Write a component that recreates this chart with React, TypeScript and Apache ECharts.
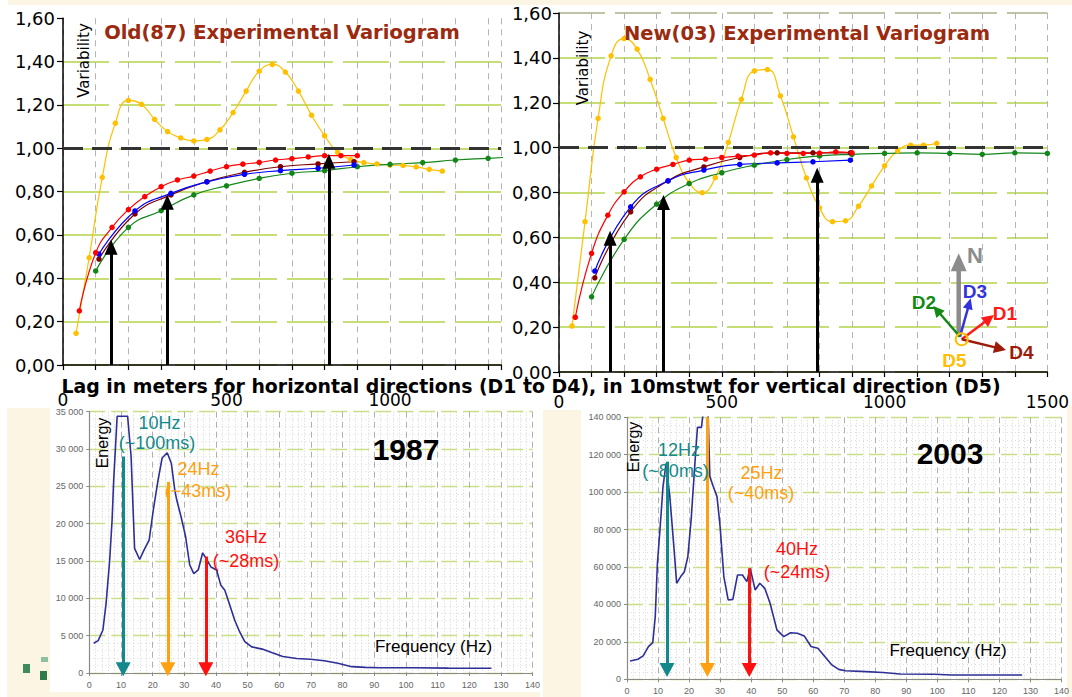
import React, { useEffect, useRef } from "react";
import * as echarts from "echarts";

// ---------- Variogram data (lag, variability) ----------
const lagD5 = [40, 80, 120, 160, 200, 240, 280, 320, 360, 400, 440, 480, 520, 560, 600, 640, 680, 720, 760, 800, 840, 880, 920, 960, 1000, 1040, 1080, 1120, 1160];
const lagD1 = [50, 100, 150, 200, 250, 300, 350, 400, 450, 500, 550, 600, 650, 700, 750, 800, 850, 900];
const lagD2 = [100, 200, 300, 400, 500, 600, 700, 800, 900, 1000, 1100, 1200, 1300, 1400, 1500];
const lagD34old = [110, 220, 330, 440, 555, 665, 780, 890];
const lagD34new = [110, 220, 335, 445, 555, 670, 780, 895];

const oldD5 = [0.146, 0.495, 0.866, 1.116, 1.221, 1.203, 1.134, 1.077, 1.048, 1.034, 1.041, 1.085, 1.165, 1.264, 1.356, 1.387, 1.352, 1.264, 1.153, 1.058, 0.981, 0.949, 0.934, 0.928, 0.923, 0.921, 0.914, 0.903, 0.895];
const oldD1 = [0.25, 0.518, 0.635, 0.717, 0.777, 0.823, 0.854, 0.872, 0.895, 0.915, 0.927, 0.935, 0.946, 0.952, 0.96, 0.966, 0.966, 0.966];
const oldD2 = [0.434, 0.635, 0.712, 0.785, 0.827, 0.861, 0.885, 0.897, 0.915, 0.926, 0.934, 0.946, 0.954, 0.962];
const oldD3 = [0.512, 0.711, 0.792, 0.845, 0.88, 0.897, 0.908, 0.923];
const oldD4 = [0.489, 0.697, 0.785, 0.846, 0.889, 0.915, 0.928, 0.938];

const newD5 = [0.205, 0.67, 1.13, 1.409, 1.486, 1.439, 1.304, 1.13, 0.956, 0.843, 0.799, 0.866, 1.023, 1.215, 1.342, 1.348, 1.231, 1.048, 0.865, 0.732, 0.67, 0.674, 0.739, 0.829, 0.919, 0.986, 1.011, 1.011, 1.019];
const newD1 = [0.244, 0.529, 0.699, 0.803, 0.87, 0.904, 0.925, 0.944, 0.949, 0.956, 0.962, 0.967, 0.977, 0.974, 0.974, 0.975, 0.981, 0.977];
const newD2 = [0.335, 0.591, 0.748, 0.84, 0.888, 0.922, 0.947, 0.963, 0.97, 0.974, 0.977, 0.974, 0.97, 0.977, 0.974];
const newD3 = [0.45, 0.736, 0.852, 0.9, 0.925, 0.932, 0.937, 0.944];
const newD4 = [0.42, 0.714, 0.852, 0.914, 0.956, 0.977, 0.977, 0.977];

const oldArrowLags = [147, 319, 813];
const oldArrowTips = [0.577, 0.785, 0.974];
const newArrowLags = [157, 321, 793];
const newArrowTips = [0.629, 0.788, 0.91];

// ---------- Spectrum data (Hz, energy) ----------
const spec87Hz = [1.4, 2.8, 4.3, 5.3, 6.4, 7.2, 7.7, 8.8, 12.1, 13.2, 14.3, 15.9, 17.3, 18.9, 20.2, 21.7, 23, 24.6, 25.9, 27, 27.6, 29, 30.4, 31.7, 33, 34.4, 35.8, 37.1, 38.4, 40.2, 41.5, 42.8, 44.2, 45.9, 47.5, 49.1, 51.3, 54.6, 57.8, 61.1, 65.5, 69.8, 74.2, 78.5, 82.9, 87.2, 91.6, 102.5, 113.4, 127];
const spec87E = [3980, 4330, 5760, 9330, 14900, 20500, 25800, 34400, 34400, 29000, 16700, 15200, 16500, 17800, 21800, 25800, 28800, 29500, 28100, 24500, 23200, 20900, 18300, 14500, 13300, 13800, 16100, 15200, 14200, 13800, 11800, 11100, 9300, 7100, 5500, 4200, 3500, 3200, 2700, 2200, 1950, 1850, 1650, 1300, 850, 750, 700, 700, 650, 630];

const spec03Hz = [1.0, 3.5, 5.2, 6.9, 8.3, 9.1, 9.8, 10.7, 11.6, 12.6, 13.8, 15.1, 16.0, 17.3, 18.5, 19.6, 20.7, 21.8, 22.7, 24, 25.2, 26.0, 26.7, 27.8, 29, 30, 31.2, 32.6, 34.1, 35.6, 37.2, 38.6, 39.7, 41.3, 42.8, 44.4, 46.1, 48.3, 50.5, 52.7, 54.9, 57.1, 59.3, 61.5, 63.8, 66, 68.2, 70.4, 77, 82.5, 88, 99, 104.6, 115.7, 127.3];
const spec03E = [9800, 10700, 12500, 17500, 19600, 33500, 62000, 81600, 103000, 115400, 97600, 70900, 51300, 54900, 57500, 65500, 86000, 113600, 134600, 134600, 152000, 150000, 108300, 103000, 97600, 81600, 54900, 42400, 42700, 55700, 55700, 52200, 59300, 47700, 51300, 48600, 40600, 26400, 22800, 24900, 24600, 23200, 17500, 16600, 12100, 7700, 5300, 4600, 4100, 3600, 2800, 2700, 2300, 2300, 2300];

const spec87ArrowHz = [10.7, 24.8, 36.8];
const spec87ArrowTop = [29000, 25600, 15600];
const spec03ArrowHz = [12.9, 25.9, 39.4];
const spec03ArrowTop = [116300, 140000, 59300];
const arrowColors = ["#14898b", "#ffa010", "#ff1010"];

const varTicks = [0, 0.2, 0.4, 0.6, 0.8, 1.0, 1.2, 1.4, 1.6];

const BEIGE = "#fcf5e3";
const GRIDGREEN = "#b2d34a";
const SANS = "'Liberation Sans', Arial, sans-serif";
const WIDE = "'DejaVu Sans', sans-serif";

const zip = (xs: number[], ys: number[]) => xs.map((x, i) => [x, ys[i]]);

function arrowEls(x1: number, y1: number, x2: number, y2: number, color: string, lw: number, hl: number, hw: number) {
  const dx = x2 - x1, dy = y2 - y1;
  const L = Math.hypot(dx, dy);
  const ux = dx / L, uy = dy / L;
  const bx = x2 - ux * hl, by = y2 - uy * hl;
  const px = -uy, py = ux;
  return [
    { type: "line", z: 20, shape: { x1, y1, x2: bx + ux * 2, y2: by + uy * 2 }, style: { stroke: color, lineWidth: lw } },
    {
      type: "polygon", z: 20,
      shape: { points: [[x2, y2], [bx + (px * hw) / 2, by + (py * hw) / 2], [bx - (px * hw) / 2, by - (py * hw) / 2]] },
      style: { fill: color },
    },
  ];
}

function txt(x: number, y: number, text: string, font: string, fill: string, extra: any = {}) {
  return { type: "text", x, y, z: 30, ...extra, style: { text, font, fill, textAlign: "center", textVerticalAlign: "middle" } };
}

function varSeries(name: string, gi: number, color: string, xs: number[], ys: number[]) {
  return {
    name, type: "line", xAxisIndex: gi, yAxisIndex: gi, data: zip(xs, ys), smooth: 0.5,
    symbol: "circle", symbolSize: 5.5, showSymbol: true,
    lineStyle: { color, width: 1.2 }, itemStyle: { color }, z: 3,
  };
}

function varXAxis(gi: number, max: number, margin: number) {
  return {
    type: "value", gridIndex: gi, min: 0, max, interval: 100,
    axisLine: { show: true, lineStyle: { color: "#000", width: 1.5 } },
    axisTick: { show: true, length: 5, lineStyle: { color: "#000", width: 1.2 } },
    axisLabel: { show: true, margin, fontSize: 17, fontFamily: WIDE, color: "#000", formatter: (v: number) => (v % 500 === 0 ? String(v) : "") },
    splitLine: { show: true, lineStyle: { color: "#b4b4b4", width: 1, type: [6, 5] } },
  };
}

function varYAxis(gi: number, margin: number, topColor: string) {
  return {
    type: "value", gridIndex: gi, min: 0, max: 1.6, interval: 0.2,
    axisLine: { show: true, lineStyle: { color: "#000", width: 1.5 } },
    axisTick: { show: true, length: 6, lineStyle: { color: "#000", width: 1.2 } },
    axisLabel: { show: true, margin, fontSize: 18, fontFamily: WIDE, color: "#000", formatter: (v: number) => v.toFixed(2).replace(".", ",") },
    splitLine: {
      show: true,
      lineStyle: { color: varTicks.map((t, i) => (i === varTicks.length - 1 ? topColor : GRIDGREEN)), width: 1.5, type: [46, 10] },
    },
  };
}

function specXAxis(gi: number) {
  return {
    type: "value", gridIndex: gi, min: 0, max: 140, interval: 10,
    axisLine: { show: true, lineStyle: { color: "#8a8a8a", width: 1.2 } },
    axisTick: { show: true, length: 3, lineStyle: { color: "#8a8a8a" } },
    axisLabel: { show: true, margin: 7, fontSize: 9, fontFamily: SANS, color: "#666" },
    splitLine: { show: true, lineStyle: { color: "#b0b0b0", width: 1, type: [6, 4] } },
    minorTick: { show: false, splitNumber: 5 },
    minorSplitLine: { show: true, lineStyle: { color: "#d4d4d4", width: 1, type: [1, 2] } },
  };
}

function specYAxis(gi: number, max: number, interval: number) {
  return {
    type: "value", gridIndex: gi, min: 0, max, interval,
    axisLine: { show: true, lineStyle: { color: "#8a8a8a", width: 1.2 } },
    axisTick: { show: true, length: 3, lineStyle: { color: "#8a8a8a" } },
    axisLabel: { show: true, margin: 6, fontSize: 9, fontFamily: SANS, color: "#666", formatter: (v: number) => (v === 0 ? "0" : `${v / 1000} 000`) },
    splitLine: { show: true, lineStyle: { color: "#c9df85", width: 1.3, type: [16, 6] } },
    minorTick: { show: false, splitNumber: 5 },
    minorSplitLine: { show: true, lineStyle: { color: "#dcdcdc", width: 1, type: [1, 3] } },
  };
}

export default function App() {
  const ref = useRef<HTMLDivElement>(null);
  useEffect(() => {
    if (!ref.current) return;
    const chart = echarts.init(ref.current, null, { renderer: "svg" });

    const threshold = {
      silent: true, symbol: "none", label: { show: false },
      lineStyle: { color: "#333", width: 3, type: [20, 9] },
      data: [{ yAxis: 1 }],
    };
    const blackArrows = (lags: number[], tips: number[], back: number) => ({
      silent: true, symbol: ["none", "triangle"], symbolSize: [13, 15], label: { show: false },
      lineStyle: { color: "#000", width: 3, type: "solid" },
      data: lags.map((x, i) => [{ coord: [x, 0] }, { coord: [x, tips[i] - back] }]),
    });
    const colorArrows = (hz: number[], tops: number[], end: number) => ({
      silent: true, symbol: ["none", "triangle"], symbolSize: [15, 14], label: { show: false },
      data: hz.map((x, i) => [
        { coord: [x, tops[i]], lineStyle: { color: arrowColors[i], width: 3, type: "solid" }, itemStyle: { color: arrowColors[i] } },
        { coord: [x, end], lineStyle: { color: arrowColors[i], width: 3, type: "solid" }, itemStyle: { color: arrowColors[i] } },
      ]),
    });

    const compass = [
      ...arrowEls(958.7, 336.7, 958.7, 253.3, "#8c8c8c", 4.5, 18, 16),
      ...arrowEls(960, 336.7, 970.7, 298.3, "#3333dd", 2.5, 11, 10),
      ...arrowEls(960, 336.7, 933.3, 306, "#148a14", 2.5, 11, 11),
      ...arrowEls(961.7, 339.3, 994, 315, "#ff1a1a", 2.5, 12, 12),
      ...arrowEls(961.7, 339.3, 1006, 350, "#9c1c0a", 2.5, 12, 12),
      { type: "circle", z: 21, shape: { cx: 961.7, cy: 339.3, r: 6 }, style: { fill: "none", stroke: "#ffc000", lineWidth: 2 } },
      txt(975, 255, "N", `bold 22px ${SANS}`, "#8c8c8c"),
      txt(975, 291, "D3", `bold 19px ${SANS}`, "#3333dd"),
      txt(924, 302, "D2", `bold 19px ${SANS}`, "#148a14"),
      txt(1005, 313, "D1", `bold 19px ${SANS}`, "#ff1a1a"),
      txt(1021.5, 352, "D4", `bold 19px ${SANS}`, "#9c1c0a"),
      txt(954.5, 360, "D5", `bold 19px ${SANS}`, "#ffc000"),
    ];

    const option: any = {
      animation: false,
      backgroundColor: "#ffffff",
      grid: [
        { left: 63, top: 18.3, width: 438.2, height: 346.7 },
        { left: 559, top: 13, width: 496, height: 359 },
        { left: 89.3, top: 411.7, width: 443.3, height: 261.3 },
        { left: 627, top: 417.3, width: 435, height: 262 },
      ],
      xAxis: [varXAxis(0, 1340, 26), varXAxis(1, 1500, 21), specXAxis(2), specXAxis(3)],
      yAxis: [varYAxis(0, 8, "rgba(0,0,0,0)"), varYAxis(1, 7, "#aab08c"), specYAxis(2, 35000, 5000), specYAxis(3, 140000, 20000)],
      series: [
        varSeries("D5", 0, "#ffc000", lagD5, oldD5),
        varSeries("D2", 0, "#13861a", lagD2.slice(0, oldD2.length), oldD2),
        varSeries("D4", 0, "#800000", lagD34old, oldD4),
        varSeries("D3", 0, "#0000ff", lagD34old, oldD3),
        varSeries("D1", 0, "#ff0000", lagD1, oldD1),
        { name: "old-annot", type: "line", xAxisIndex: 0, yAxisIndex: 0, data: [], z: 5, markLine: threshold },
        { name: "old-arrows", type: "line", xAxisIndex: 0, yAxisIndex: 0, data: [], z: 6, markLine: blackArrows(oldArrowLags, oldArrowTips, 0.034) },

        varSeries("D5n", 1, "#ffc000", lagD5, newD5),
        varSeries("D2n", 1, "#13861a", lagD2, newD2),
        varSeries("D4n", 1, "#800000", lagD34new, newD4),
        varSeries("D3n", 1, "#0000ff", lagD34new, newD3),
        varSeries("D1n", 1, "#ff0000", lagD1, newD1),
        { name: "new-annot", type: "line", xAxisIndex: 1, yAxisIndex: 1, data: [], z: 5, markLine: threshold },
        { name: "new-arrows", type: "line", xAxisIndex: 1, yAxisIndex: 1, data: [], z: 6, markLine: blackArrows(newArrowLags, newArrowTips, 0.033) },

        {
          name: "1987", type: "line", xAxisIndex: 2, yAxisIndex: 2, data: zip(spec87Hz, spec87E), showSymbol: false,
          lineStyle: { color: "#2d2f96", width: 1.6 }, itemStyle: { color: "#2d2f96" }, z: 3,
        },
        { name: "a87", type: "line", xAxisIndex: 2, yAxisIndex: 2, data: [], z: 6, markLine: colorArrows(spec87ArrowHz, spec87ArrowTop, 500) },
        {
          name: "2003", type: "line", xAxisIndex: 3, yAxisIndex: 3, data: zip(spec03Hz, spec03E), showSymbol: false,
          lineStyle: { color: "#2d2f96", width: 1.6 }, itemStyle: { color: "#2d2f96" }, z: 3,
        },
        { name: "a03", type: "line", xAxisIndex: 3, yAxisIndex: 3, data: [], z: 6, markLine: colorArrows(spec03ArrowHz, spec03ArrowTop, 5000) },
      ],
      graphic: [
        { type: "rect", z: 0, shape: { x: 8, y: 0, width: 1064, height: 5 }, style: { fill: BEIGE } },
        { type: "rect", z: 0, shape: { x: 7, y: 408, width: 43, height: 289 }, style: { fill: BEIGE } },
        { type: "rect", z: 0, shape: { x: 7, y: 692, width: 533, height: 5 }, style: { fill: BEIGE } },
        { type: "rect", z: 0, shape: { x: 543, y: 410, width: 38, height: 287 }, style: { fill: BEIGE } },
        { type: "rect", z: 0, shape: { x: 1067, y: 405, width: 5, height: 292 }, style: { fill: BEIGE } },
        { type: "rect", z: 1, shape: { x: 23, y: 664, width: 7, height: 9 }, style: { fill: "#3f8a5c" } },
        { type: "rect", z: 1, shape: { x: 40, y: 671, width: 7, height: 9 }, style: { fill: "#2f7a4c" } },
        { type: "rect", z: 1, shape: { x: 41, y: 657, width: 7, height: 5 }, style: { fill: "#8cc0a0" } },

        txt(282, 32, "Old(87) Experimental Variogram", `bold 19.5px ${WIDE}`, "#9b2a0f"),
        txt(807, 33, "New(03) Experimental Variogram", `bold 19.5px ${WIDE}`, "#9b2a0f"),
        txt(83.6, 60.5, "Variability", `15px ${WIDE}`, "#000", { rotation: Math.PI / 2 }),
        txt(582.6, 68, "Variability", `15px ${WIDE}`, "#000", { rotation: Math.PI / 2 }),
        txt(531, 386, "Lag in meters for horizontal directions (D1 to D4), in 10mstwt for vertical direction (D5)", `bold 18.9px ${WIDE}`, "#000"),

        txt(159.5, 423.3, "10Hz", `18px ${SANS}`, "#14898b"),
        txt(157, 443.3, "(~100ms)", `18px ${SANS}`, "#14898b"),
        txt(198.6, 469, "24Hz", `18px ${SANS}`, "#ffa010"),
        txt(198, 490.7, "(~43ms)", `18px ${SANS}`, "#ffa010"),
        txt(246, 537.3, "36Hz", `18px ${SANS}`, "#ff1010"),
        txt(246, 560.7, "(~28ms)", `18px ${SANS}`, "#ff1010"),
        txt(102, 443, "Energy", `16px ${SANS}`, "#000", { rotation: Math.PI / 2 }),
        txt(406, 449.3, "1987", `bold 30px ${SANS}`, "#000"),
        txt(433.5, 646, "Frequency (Hz)", `17px ${SANS}`, "#000"),

        txt(679, 450, "12Hz", `18px ${SANS}`, "#14898b"),
        txt(675.6, 470.7, "(~80ms)", `18px ${SANS}`, "#14898b"),
        txt(761.6, 472.7, "25Hz", `18px ${SANS}`, "#ffa010"),
        txt(761, 493.3, "(~40ms)", `18px ${SANS}`, "#ffa010"),
        txt(797, 549, "40Hz", `18px ${SANS}`, "#ff1010"),
        txt(797, 571.7, "(~24ms)", `18px ${SANS}`, "#ff1010"),
        txt(633, 447, "Energy", `16px ${SANS}`, "#000", { rotation: Math.PI / 2 }),
        txt(950, 453, "2003", `bold 30px ${SANS}`, "#000"),
        txt(948, 650, "Frequency (Hz)", `17px ${SANS}`, "#000"),

        ...compass,
      ],
    };
    chart.setOption(option);
    return () => chart.dispose();
  }, []);

  return <div ref={ref} style={{ width: 1072, height: 697, position: "absolute", left: 0, top: 0 }} />;
}
